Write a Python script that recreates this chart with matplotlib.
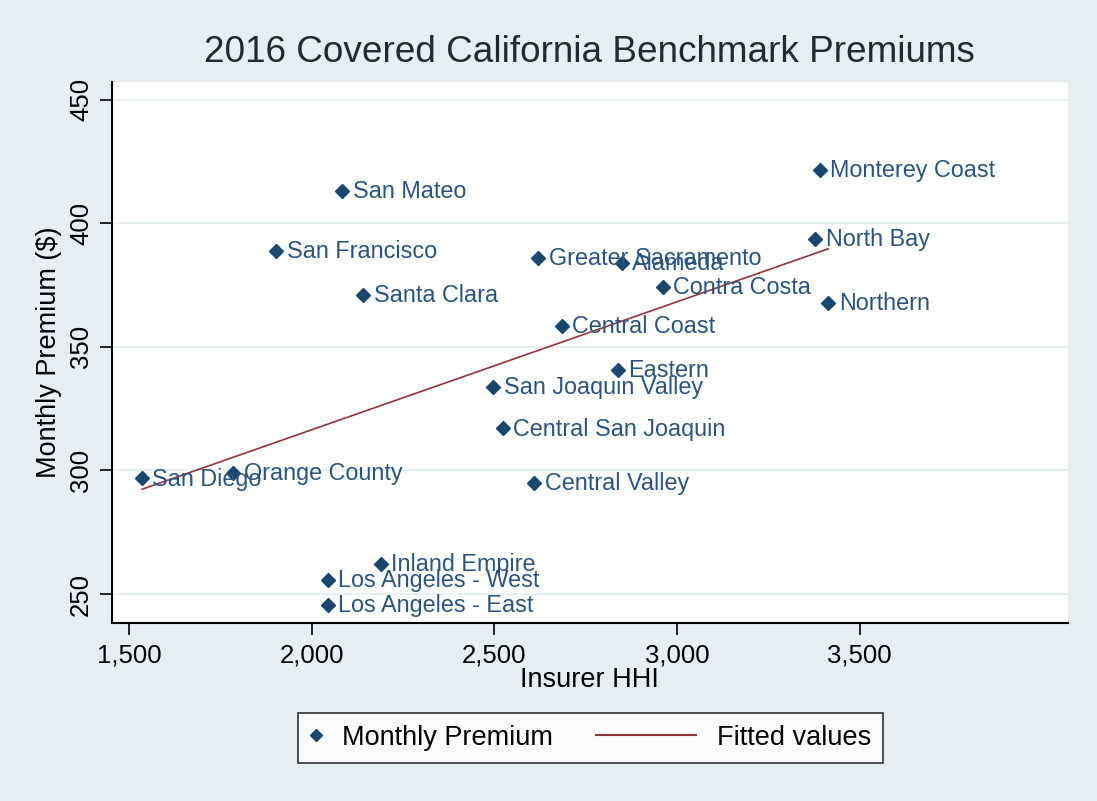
import numpy as np
import matplotlib
matplotlib.use("Agg")
import matplotlib.pyplot as plt
from matplotlib.lines import Line2D
from matplotlib.legend_handler import HandlerBase

plt.rcParams['font.family'] = ['Liberation Sans', 'DejaVu Sans']

# Regioes de preco do Covered California
regioes = ["San Diego", "Orange County", "San Francisco", "San Mateo", "Santa Clara",
           "Los Angeles - West", "Los Angeles - East", "Inland Empire",
           "San Joaquin Valley", "Central San Joaquin", "Greater Sacramento",
           "Central Valley", "Central Coast", "Alameda", "Eastern", "Contra Costa",
           "Monterey Coast", "North Bay", "Northern"]
hhi = [1536, 1786, 1904, 2084, 2141, 2044, 2044, 2190, 2497, 2523, 2620,
       2609, 2685, 2849, 2838, 2961, 3390, 3378, 3414]
premio = [296.8, 298.9, 388.9, 413.1, 370.9, 255.7, 245.6, 262.1, 333.9, 317.0,
          386.0, 294.8, 358.5, 383.8, 340.6, 374.3, 421.5, 393.5, 367.7]

xticks = [1500, 2000, 2500, 3000, 3500]
yticks = [250, 300, 350, 400, 450]

navy = '#1a476f'
maroon = '#90353b'
fundo = '#e6eef1'

x = np.array(hhi, dtype=float)
y = np.array(premio)

# Reta de regressao (fitted values)
b1, b0 = np.polyfit(x, y, 1)
xf = np.array([x.min(), x.max()])
yf = b0 + b1 * xf

fig = plt.figure(figsize=(10.97, 8.01), dpi=100, facecolor=fundo)
ax = fig.add_axes([0.1018, 0.2219, 0.9736 - 0.1018, 0.898 - 0.2219])
ax.set_facecolor('white')

for t in yticks:
    ax.axhline(t, color='#e8f0f2', lw=1.6, zorder=0)

ax.plot(xf, yf, color=maroon, lw=1.2, zorder=2)
ax.plot(x, y, ls='none', marker='D', ms=7, color=navy, zorder=3)
for xi, yi, nome in zip(x, y, regioes):
    ax.annotate(nome, (xi, yi), xytext=(7.5, -0.5), textcoords='offset points',
                va='center', ha='left', fontsize=16.8, color='#2a5380', zorder=4)

ax.set_xlim(1453, 4070)
ax.set_ylim(238.2, 457.2)
ax.set_xticks(xticks)
ax.set_xticklabels(['{:,}'.format(v) for v in xticks])
ax.set_yticks(yticks)
ax.set_yticklabels([str(v) for v in yticks], rotation=90, va='center')
ax.tick_params(axis='both', length=8.5, width=1.2, labelsize=18.5, colors='black')
ax.tick_params(axis='x', pad=6)
ax.tick_params(axis='y', pad=5)

for s in ['top', 'right']:
    ax.spines[s].set_visible(False)
for s in ['left', 'bottom']:
    ax.spines[s].set_linewidth(1.5)
    ax.spines[s].set_color('black')

ax.set_xlabel("Insurer HHI", fontsize=19.5, labelpad=0)
ax.set_ylabel("Monthly Premium ($)", fontsize=19.5, labelpad=5)

fig.text(0.537, 0.935, "2016 Covered California Benchmark Premiums",
         ha='center', va='center', fontsize=26.6, color='#222a33')


# Legenda estilo Stata: marcador curto, linha comprida
class LinhaLonga(HandlerBase):
    def create_artists(self, legend, orig_handle, xdescent, ydescent, width, height, fontsize, trans):
        ym = height / 2 - ydescent
        ln = Line2D([-xdescent - 3.3 * fontsize, width - xdescent], [ym, ym],
                    color=maroon, lw=1.5)
        ln.set_transform(trans)
        return [ln]


h1 = Line2D([], [], ls='none', marker='D', ms=6, color=navy)
h2 = Line2D([], [], color=maroon)
leg = fig.legend([h1, h2], ["Monthly Premium", "Fitted values"],
                 loc='center', bbox_to_anchor=(0.5385, 0.0787), ncol=2,
                 fontsize=19.5, frameon=True, fancybox=False, edgecolor='black',
                 handlelength=0.4, handletextpad=0.75, columnspacing=4.9,
                 borderpad=0.45, handler_map={h2: LinhaLonga()})
leg.get_frame().set_linewidth(1.2)
leg.get_frame().set_facecolor('white')

fig.savefig('out.png', dpi=100, facecolor=fundo)
